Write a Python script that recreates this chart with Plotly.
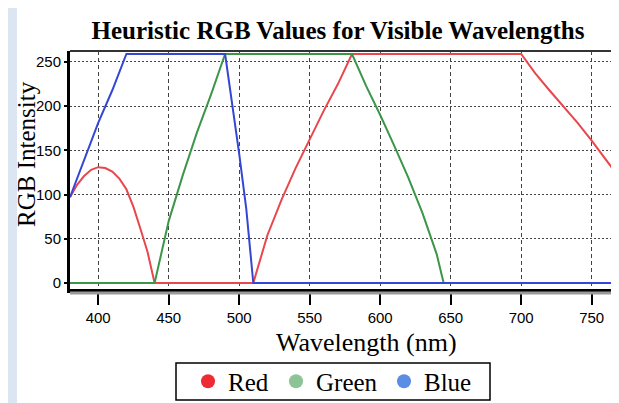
import plotly.graph_objects as go

# ---- data ----
red_nm = [380, 385, 390, 395, 400, 405, 410, 415, 420, 425, 430, 435, 440,
          510, 520, 530, 540, 550, 560, 570, 580,
          700, 710, 720, 730, 740, 750, 760, 770, 780]
red_val = [97, 111, 121, 128, 131, 130, 126, 118, 106, 86, 61, 35, 0,
           0, 54, 94, 130, 163, 195, 225, 259,
           259, 237, 218, 200, 181, 161, 140, 119, 97]

green_nm = [380, 440, 450, 460, 470, 480, 490, 580, 590, 600, 610, 620, 630, 640, 645, 780]
green_val = [0, 0, 70, 122, 170, 213, 259, 259, 223, 190, 155, 119, 79, 33, 0, 0]

blue_nm = [380, 390, 400, 410, 420, 490, 495, 500, 505, 510, 780]
blue_val = [97, 140, 181, 218, 259, 259, 203, 146, 84, 0, 0]

series_names = ["Red", "Green", "Blue"]
x_ticks = [400, 450, 500, 550, 600, 650, 700, 750]
y_ticks = [0, 50, 100, 150, 200, 250]

line_colors = ["#e8474c", "#3b9647", "#3346d6"]
legend_colors = ["#ee2a35", "#8cc496", "#5a8ee6"]

W, H = 619, 403
L, R, T, B = 62, 0, 43, 122
pw, ph = W - L - R, H - T - B

def px_x(p):
    return (p - L) / pw

def px_y(p):
    return (H - B - p) / ph

serif = "Liberation Serif, Times New Roman, serif"
narrow = "Liberation Sans Narrow, Arial Narrow, sans-serif"

fig = go.Figure()
for xs, ys, c in zip([red_nm, green_nm, blue_nm], [red_val, green_val, blue_val], line_colors):
    fig.add_trace(go.Scatter(x=xs, y=ys, mode="lines", line=dict(color=c, width=2),
                             showlegend=False, hoverinfo="skip"))

legend_ids = ["legend", "legend2", "legend3"]
legend_left_px = [180, 268, 376]
for n, c, lid in zip(series_names, legend_colors, legend_ids):
    fig.add_trace(go.Scatter(x=[None], y=[None], mode="markers", name=n, legend=lid,
                             marker=dict(color=c, size=14, symbol="circle")))

legend_common = dict(orientation="h", xanchor="left", y=px_y(373.5), yanchor="middle",
                     bgcolor="rgba(0,0,0,0)", borderwidth=0,
                     font=dict(family=serif, size=25, color="black"),
                     itemclick=False, itemdoubleclick=False)

fig.update_layout(
    width=W, height=H,
    margin=dict(l=L, r=R, t=T, b=B, pad=0),
    paper_bgcolor="#dce6f2",
    plot_bgcolor="white",
    title=dict(text="<b>Heuristic RGB Values for Visible Wavelengths</b>",
               font=dict(family=serif, size=25, color="black"),
               x=330 / W, xanchor="center", y=1 - 22 / H, yanchor="middle",
               xref="container", yref="container"),
    xaxis=dict(range=[380, 380 + pw / 1.41], tickvals=x_ticks,
               showgrid=True, gridcolor="#444", gridwidth=1, griddash="4px,3px",
               showline=True, linecolor="black", linewidth=4,
               ticks="outside", ticklen=12, tickwidth=1.5, tickcolor="black",
               tickfont=dict(family=narrow, size=15, color="black"),
               zeroline=False, fixedrange=True),
    yaxis=dict(range=[-6.8, 262.4], tickvals=y_ticks,
               showgrid=True, gridcolor="#444", gridwidth=1, griddash="2px,2px",
               showline=True, linecolor="black", linewidth=3,
               ticks="outside", ticklen=3, tickwidth=1.5, tickcolor="black",
               tickfont=dict(family=narrow, size=15, color="black"),
               zeroline=False, fixedrange=True),
    legend=dict(legend_common, x=px_x(legend_left_px[0])),
    legend2=dict(legend_common, x=px_x(legend_left_px[1])),
    legend3=dict(legend_common, x=px_x(legend_left_px[2])),
    shapes=[
        dict(type="rect", xref="paper", yref="paper", layer="below",
             x0=px_x(9), x1=1.05, y0=px_y(400), y1=px_y(-10),
             fillcolor="white", line=dict(width=0)),
        dict(type="line", xref="paper", yref="paper",
             x0=0, x1=1.0, y0=1, y1=1, line=dict(color="#333", width=2)),
        dict(type="line", xref="paper", yref="paper",
             x0=0, x1=1.0, y0=px_y(285), y1=px_y(285), line=dict(color="#9a9a9a", width=3)),
        dict(type="rect", xref="paper", yref="paper",
             x0=px_x(168), x1=px_x(482), y0=px_y(392), y1=px_y(355),
             fillcolor="white", line=dict(color="black", width=1.5)),
    ],
    annotations=[
        dict(text="Wavelength (nm)", xref="paper", yref="paper",
             x=px_x(358), y=px_y(334), xanchor="center", yanchor="middle",
             showarrow=False, font=dict(family=serif, size=26, color="black")),
        dict(text="RGB Intensity", xref="paper", yref="paper",
             x=px_x(18), y=px_y(146), xanchor="center", yanchor="middle",
             textangle=-90, showarrow=False,
             font=dict(family=serif, size=25, color="black")),
    ],
)

fig.write_html("out.html")
